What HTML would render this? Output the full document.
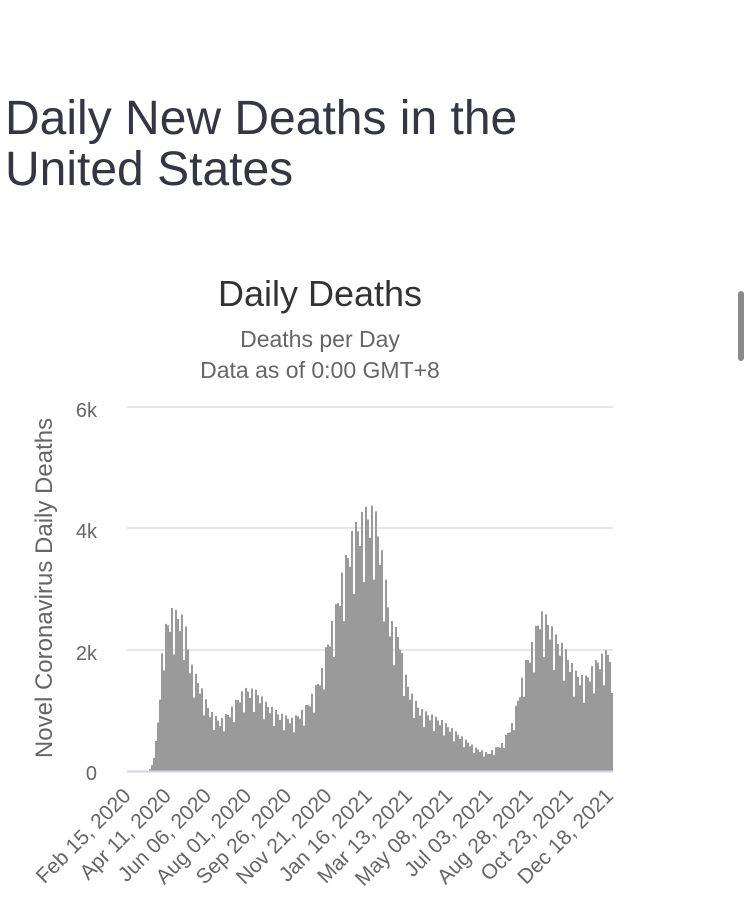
<!DOCTYPE html>
<html><head><meta charset="utf-8"><style>
html,body{margin:0;padding:0;background:#fff;width:750px;height:923px;overflow:hidden;font-family:"Liberation Sans",Arial,sans-serif}
h1{position:absolute;left:5px;top:93px;margin:0;font-weight:normal;font-size:48px;line-height:51px;color:#343741}
.sb{position:absolute;left:738px;top:291px;width:6px;height:70px;border-radius:3px;background:#8a8a8a}
</style></head><body>
<h1>Daily New Deaths in the<br>United States</h1>
<div class="sb"></div>
<svg id="s" width="750" height="923" style="position:absolute;left:0;top:0" font-family="Liberation Sans, Arial, sans-serif">
<text x="320" y="306" text-anchor="middle" font-size="36" fill="#333">Daily Deaths</text>
<text x="320" y="347" text-anchor="middle" font-size="23" fill="#666">Deaths per Day</text>
<text x="320" y="378" text-anchor="middle" font-size="23" fill="#666">Data as of 0:00 GMT+8</text>
<g stroke="#e6e6e6" stroke-width="2"><line x1="127" x2="613" y1="407" y2="407"/><line x1="127" x2="613" y1="528" y2="528"/><line x1="127" x2="613" y1="650" y2="650"/></g>
<g font-size="20" fill="#666" text-anchor="end"><text x="97" y="417">6k</text><text x="97" y="538">4k</text><text x="97" y="660">2k</text><text x="97" y="780">0</text></g>
<text transform="translate(52,588) rotate(-90)" text-anchor="middle" font-size="24" fill="#666">Novel Coronavirus Daily Deaths</text>
<g id="bars" fill="#9a9a9a"></g>
<line x1="127" x2="613" y1="771.5" y2="771.5" stroke="#ccd6eb" stroke-width="2"/>
<g id="xl" font-size="21" fill="#666" text-anchor="end"></g>
</svg>
<script>
var pts=[[149,771],[152,765],[157,735],[160,690],[163,635],[167,620],[172,608],[180,612],[185,618],[190,660],[200,683],[210,710],[220,720],[230,710],[240,693],[247,687],[257,690],[267,703],[280,713],[293,718],[305,707],[315,688],[322,668],[327,642],[337,600],[343,567],[353,527],[365,507],[375,505],[380,537],[385,570],[390,618],[400,633],[403,663],[410,690],[420,708],[442,720],[458,733],[475,747],[488,753],[502,743],[512,723],[518,697],[525,663],[532,642],[540,610],[547,615],[555,633],[565,647],[575,670],[585,677],[598,657],[610,647],[613,660]];
function env(x){for(var i=0;i<pts.length-1;i++){var a=pts[i],b=pts[i+1];if(x>=a[0]&&x<=b[0]){return a[1]+(b[1]-a[1])*(x-a[0])/(b[0]-a[0]);}}return 771;}
var g=document.getElementById('bars'),h='';var n=0;
for(var x=149;x<613;x+=2){var y=env(x+1);var hgt=771-y;var k=n%5;n++;
if(k==2)hgt*=0.72;else if(k==0)hgt*=0.88;else if(k==4)hgt*=0.95;if(x>=611)hgt=78;
if(hgt>0.5)h+='<rect x="'+x+'" y="'+(771-hgt).toFixed(1)+'" width="2" height="'+hgt.toFixed(1)+'"/>';}
g.innerHTML=h;
var L=["Feb 15, 2020","Apr 11, 2020","Jun 06, 2020","Aug 01, 2020","Sep 26, 2020","Nov 21, 2020","Jan 16, 2021","Mar 13, 2021","May 08, 2021","Jul 03, 2021","Aug 28, 2021","Oct 23, 2021","Dec 18, 2021"];
var s='';for(var i=0;i<L.length;i++){var x=132+i*40.2;s+='<text transform="translate('+x.toFixed(1)+',797) rotate(-45)">'+L[i]+'</text>';}
document.getElementById('xl').innerHTML=s;
</script>
</body></html>
